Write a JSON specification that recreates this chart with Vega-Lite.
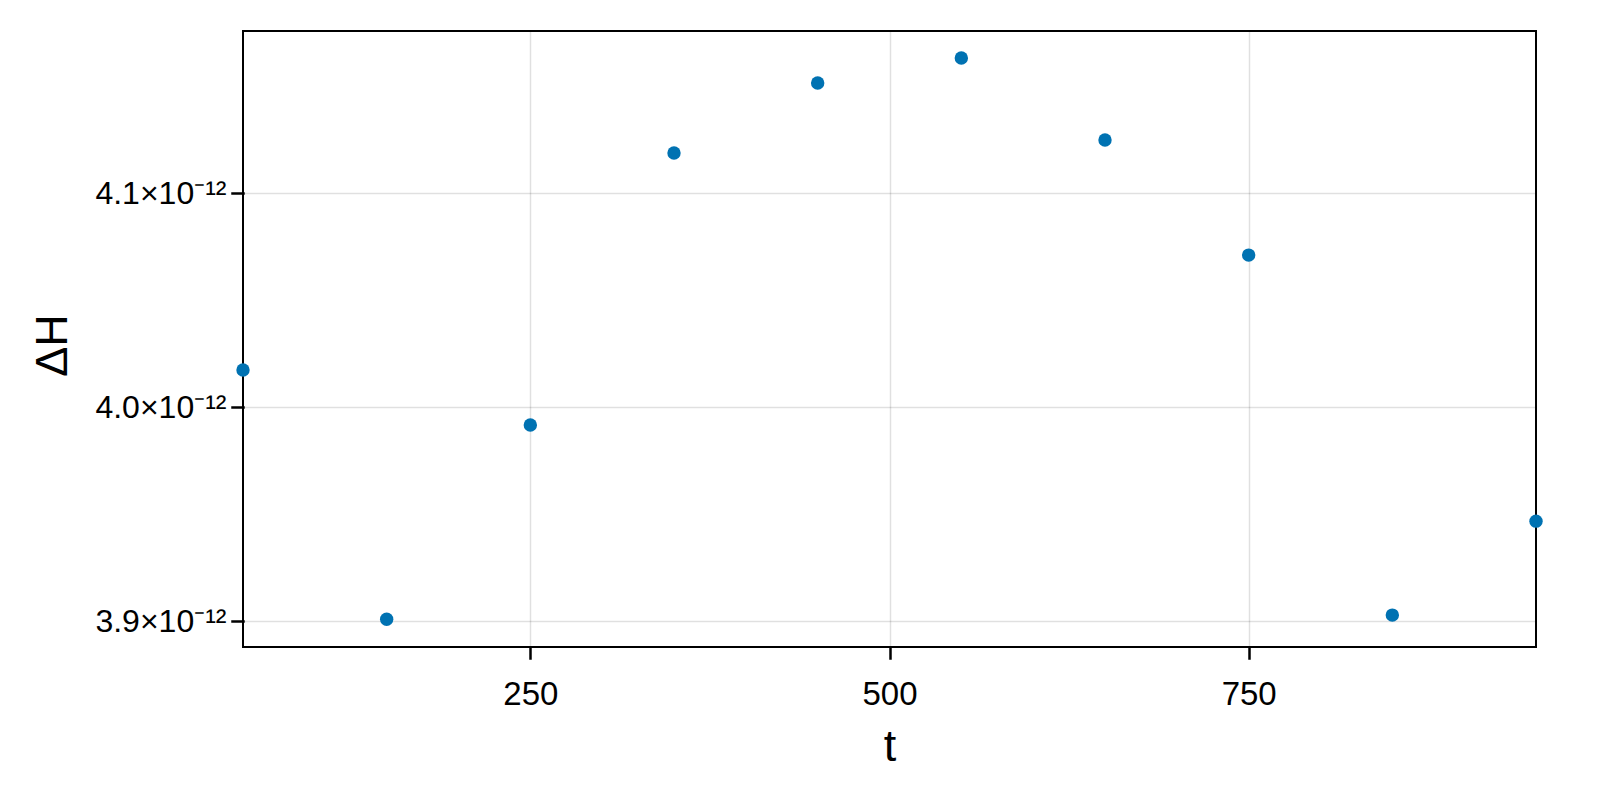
{
  "$schema": "https://vega.github.io/schema/vega-lite/v6.json",
  "width": 1293,
  "height": 616,
  "autosize": {"type": "none"},
  "padding": {"left": 243, "top": 31, "right": 64, "bottom": 153},
  "background": "white",
  "config": {
    "view": {"stroke": "black", "strokeWidth": 2},
    "font": "Liberation Sans"
  },
  "data": {
    "values": [
      {"t": 50, "dH": 4.0173e-12},
      {"t": 150, "dH": 3.9009e-12},
      {"t": 250, "dH": 3.9916e-12},
      {"t": 350, "dH": 4.1187e-12},
      {"t": 450, "dH": 4.1514e-12},
      {"t": 550, "dH": 4.1631e-12},
      {"t": 650, "dH": 4.1248e-12},
      {"t": 750, "dH": 4.0710e-12},
      {"t": 850, "dH": 3.9028e-12},
      {"t": 950, "dH": 3.9467e-12}
    ]
  },
  "mark": {"type": "point", "filled": true, "size": 180, "color": "#0072B2", "opacity": 1, "clip": false},
  "encoding": {
    "x": {
      "field": "t",
      "type": "quantitative",
      "scale": {"domain": [50, 950], "nice": false, "zero": false},
      "axis": {
        "title": "t",
        "values": [250, 500, 750],
        "domain": false,
        "grid": true,
        "gridColor": "#000000",
        "gridOpacity": 0.12,
        "gridWidth": 1.5,
        "ticks": true,
        "tickColor": "#000000",
        "tickOpacity": 1,
        "tickWidth": 2.5,
        "tickSize": 11,
        "tickCap": "square",
        "labelFontSize": 33,
        "labelColor": "black",
        "labelPadding": 20,
        "titleFontSize": 45,
        "titleFontWeight": "normal",
        "titleColor": "black",
        "titleBaseline": "alphabetic",
        "titleY": 113
      }
    },
    "y": {
      "field": "dH",
      "type": "quantitative",
      "scale": {"domain": [3.8879e-12, 4.1757e-12], "nice": false, "zero": false},
      "axis": {
        "title": "ΔH",
        "values": [3.9e-12, 4.0e-12, 4.1e-12],
        "labelExpr": "format(datum.value * 1e12, '.1f') + '×10⁻¹²'",
        "domain": false,
        "grid": true,
        "gridColor": "#000000",
        "gridOpacity": 0.12,
        "gridWidth": 1.5,
        "ticks": true,
        "tickColor": "#000000",
        "tickOpacity": 1,
        "tickWidth": 2.5,
        "tickSize": 11,
        "tickCap": "square",
        "labelFontSize": 32,
        "labelColor": "black",
        "labelPadding": 6,
        "titleFontSize": 45,
        "titleFontWeight": "normal",
        "titleColor": "black",
        "titleAngle": -90,
        "titleBaseline": "middle",
        "titleAlign": "center",
        "titleX": -191,
        "titleY": 314
      }
    }
  }
}
